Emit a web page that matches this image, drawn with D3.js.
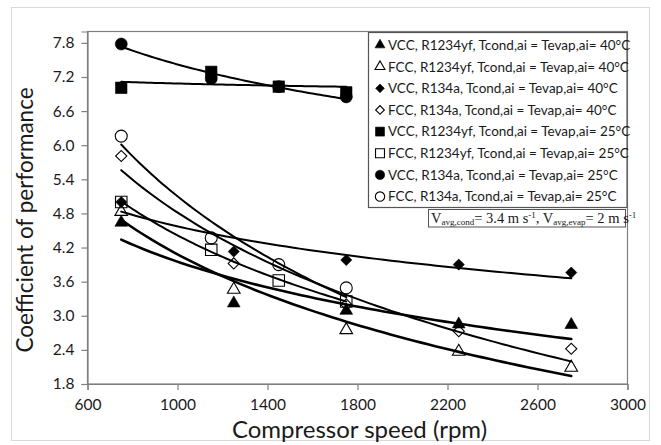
<!DOCTYPE html>
<html>
<head>
<meta charset="utf-8">
<script src="https://cdn.jsdelivr.net/npm/d3@7"></script>
<style>
  html, body { margin: 0; padding: 0; background: #fff; }
  svg { display: block; }
  text { font-family: Lato, "Open Sans", sans-serif; fill: #1a1a1a; }
</style>
</head>
<body>
<svg id="chart" width="661" height="445"></svg>
<script>
// Compressor speeds (rpm)
const speeds40 = [750, 1250, 1750, 2250, 2750];
const speeds25 = [750, 1150, 1450, 1750];

// Coefficient of performance for each configuration
const vccR1234yf40 = [4.64, 3.22, 3.09, 2.85, 2.84];
const fccR1234yf40 = [4.83, 3.46, 2.75, 2.37, 2.09];
const vccR134a40   = [5.00, 4.13, 3.98, 3.90, 3.76];
const fccR134a40   = [5.81, 3.92, 3.20, 2.73, 2.42];
const vccR1234yf25 = [7.01, 7.29, 7.03, 6.93];
const fccR1234yf25 = [5.00, 4.16, 3.62, 3.25];
const vccR134a25   = [7.78, 7.17, 7.03, 6.85];
const fccR134a25   = [6.16, 4.37, 3.90, 3.49];

const seriesLabels = [
  "VCC, R1234yf, Tcond,ai = Tevap,ai= 40°C",
  "FCC, R1234yf, Tcond,ai = Tevap,ai= 40°C",
  "VCC, R134a, Tcond,ai = Tevap,ai= 40°C",
  "FCC, R134a, Tcond,ai = Tevap,ai= 40°C",
  "VCC, R1234yf, Tcond,ai = Tevap,ai= 25°C",
  "FCC, R1234yf, Tcond,ai = Tevap,ai= 25°C",
  "VCC, R134a, Tcond,ai = Tevap,ai= 25°C",
  "FCC, R134a, Tcond,ai = Tevap,ai= 25°C"
];

const xTickValues = [600, 1000, 1400, 1800, 2200, 2600, 3000];
const yTickValues = [1.8, 2.4, 3.0, 3.6, 4.2, 4.8, 5.4, 6.0, 6.6, 7.2, 7.8];

const xTitle = "Compressor speed (rpm)";
const yTitle = "Coefficient of performance";

const series = [
  { label: seriesLabels[0], x: speeds40, y: vccR1234yf40, shape: "triangle", filled: true,  lw: 2.6 },
  { label: seriesLabels[1], x: speeds40, y: fccR1234yf40, shape: "triangle", filled: false, lw: 2.6 },
  { label: seriesLabels[2], x: speeds40, y: vccR134a40,   shape: "diamond",  filled: true,  lw: 2 },
  { label: seriesLabels[3], x: speeds40, y: fccR134a40,   shape: "diamond",  filled: false, lw: 2 },
  { label: seriesLabels[4], x: speeds25, y: vccR1234yf25, shape: "square",   filled: true,  lw: 2 },
  { label: seriesLabels[5], x: speeds25, y: fccR1234yf25, shape: "square",   filled: false, lw: 2 },
  { label: seriesLabels[6], x: speeds25, y: vccR134a25,   shape: "circle",   filled: true,  lw: 2 },
  { label: seriesLabels[7], x: speeds25, y: fccR134a25,   shape: "circle",   filled: false, lw: 2 }
];

const svg = d3.select("#chart");

// Chart-area frame
svg.append("rect")
  .attr("x", 11.5).attr("y", 7.5).attr("width", 638).attr("height", 433)
  .attr("fill", "#fff").attr("stroke", "#d9d9d9").attr("stroke-width", 1);

const plot = { left: 87.5, right: 627.5, top: 31.5, bottom: 384 };

const x = d3.scaleLinear().domain([600, 3000]).range([plot.left, plot.right]);
const y = d3.scaleLinear().domain([1.8, 8.0]).range([plot.bottom, plot.top]);

// Plot border
svg.append("rect")
  .attr("x", plot.left).attr("y", plot.top)
  .attr("width", plot.right - plot.left).attr("height", plot.bottom - plot.top)
  .attr("fill", "none").attr("stroke", "#7f7f7f").attr("stroke-width", 1.2);

// Axes
const xAxis = d3.axisBottom(x).tickValues(xTickValues).tickSize(6).tickPadding(5)
  .tickFormat(d3.format("d"));
const yAxis = d3.axisLeft(y).tickValues(yTickValues).tickSize(6).tickPadding(7)
  .tickFormat(d3.format(".1f"));

const gx = svg.append("g").attr("transform", `translate(0,${plot.bottom})`).call(xAxis);
const gy = svg.append("g").attr("transform", `translate(${plot.left},0)`).call(yAxis);
[gx, gy].forEach(g => {
  g.select(".domain").attr("stroke", "#7f7f7f").attr("stroke-width", 1.2);
  g.selectAll(".tick line").attr("stroke", "#7f7f7f").attr("stroke-width", 1.2);
  g.selectAll(".tick text")
    .attr("font-family", "Lato, sans-serif").attr("font-size", 15.5).attr("fill", "#1a1a1a");
});
gx.selectAll(".tick text").attr("dy", "0.95em");

// Axis titles
svg.append("text")
  .attr("x", (plot.left + plot.right) / 2 + 2).attr("y", 438)
  .attr("text-anchor", "middle").attr("font-size", 24)
  .text(xTitle);
svg.append("text")
  .attr("transform", "translate(33,220) rotate(-90)")
  .attr("text-anchor", "middle").attr("font-size", 22.5)
  .text(yTitle);

// Logarithmic least-squares trend: y = a + b·ln(x)
function logFit(xs, ys) {
  const lx = xs.map(Math.log);
  const mx = d3.mean(lx), my = d3.mean(ys);
  const b = d3.sum(lx, (v, i) => (v - mx) * (ys[i] - my)) / d3.sum(lx, v => (v - mx) ** 2);
  const a = my - b * mx;
  return v => a + b * Math.log(v);
}

const line = d3.line().x(d => x(d[0])).y(d => y(d[1])).curve(d3.curveLinear);

const trendG = svg.append("g");
series.forEach(s => {
  const f = logFit(s.x, s.y);
  const [x0, x1] = d3.extent(s.x);
  const pts = d3.range(0, 61).map(i => {
    const v = x0 + (x1 - x0) * i / 60;
    return [v, f(v)];
  });
  trendG.append("path").datum(pts)
    .attr("d", line)
    .attr("fill", "none").attr("stroke", "#000")
    .attr("stroke-width", s.lw).attr("stroke-linecap", "round");
});

// Marker drawing
function marker(g, shape, filled, scale) {
  const fill = filled ? "#000" : "none";
  const sw = filled ? 0.6 : 1.1;
  let el;
  if (shape === "circle") {
    el = g.append("circle").attr("r", 6 * scale);
  } else if (shape === "square") {
    el = g.append("path").attr("d", d3.symbol(d3.symbolSquare, 132 * scale * scale)());
  } else if (shape === "triangle") {
    el = g.append("path").attr("d", d3.symbol(d3.symbolTriangle, 70 * scale * scale)());
  } else {
    el = g.append("path").attr("d", d3.symbol(d3.symbolSquare, 62 * scale * scale)())
      .attr("transform", "rotate(45)");
  }
  el.attr("fill", fill).attr("stroke", "#000").attr("stroke-width", sw);
}

const markG = svg.append("g");
series.forEach(s => {
  s.x.forEach((v, i) => {
    const g = markG.append("g").attr("transform", `translate(${x(v)},${y(s.y[i])})`);
    marker(g, s.shape, s.filled, 1);
  });
});

// Legend
const legend = { x: 368.5, y: 32.5, w: 258.5, h: 175, row0: 45, step: 21.65 };
svg.append("rect")
  .attr("x", legend.x).attr("y", legend.y).attr("width", legend.w).attr("height", legend.h)
  .attr("fill", "#fff").attr("stroke", "#555").attr("stroke-width", 1.2);

series.forEach((s, i) => {
  const cy = legend.row0 + i * legend.step;
  const g = svg.append("g").attr("transform", `translate(380,${cy})`);
  marker(g, s.shape, s.filled, 0.78);
  svg.append("text")
    .attr("x", 388).attr("y", cy).attr("dy", "0.36em")
    .attr("font-size", 13.5)
    .text(s.label);
});

// Air velocity note
const note = svg.append("g");
note.append("rect")
  .attr("x", 428.5).attr("y", 209.5).attr("width", 197).attr("height", 17.5)
  .attr("fill", "#fff").attr("stroke", "#555").attr("stroke-width", 1);
const nt = note.append("text")
  .attr("x", 431).attr("y", 222.5)
  .style("font-family", "'Liberation Serif', 'Times New Roman', serif")
  .attr("font-size", 14.5);
nt.append("tspan").text("V");
nt.append("tspan").attr("font-size", 9).attr("dy", 2.5).text("avg,cond");
nt.append("tspan").attr("dy", -2.5).text("= 3.4 m s");
nt.append("tspan").attr("font-size", 9).attr("dy", -5).text("-1");
nt.append("tspan").attr("dy", 5).text(", V");
nt.append("tspan").attr("font-size", 9).attr("dy", 2.5).text("avg,evap");
nt.append("tspan").attr("dy", -2.5).text("= 2 m s");
nt.append("tspan").attr("font-size", 9).attr("dy", -5).text("-1");
</script>
</body>
</html>
